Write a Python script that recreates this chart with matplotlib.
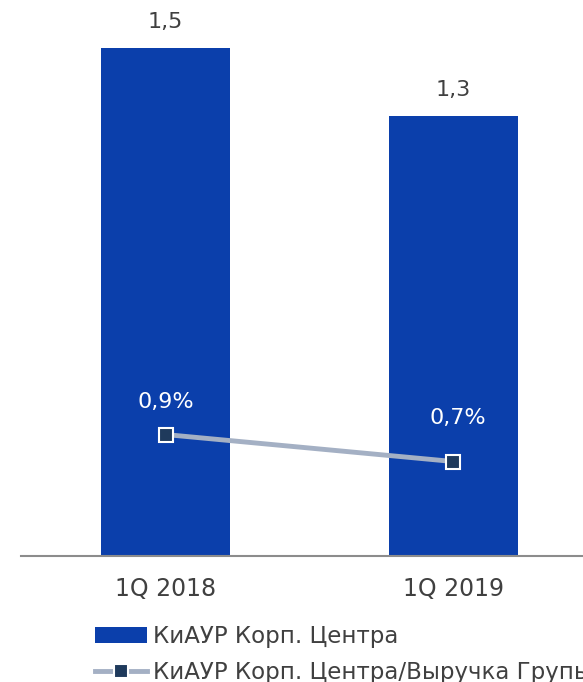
import matplotlib.pyplot as plt
import numpy as np

# данные
categories = ["1Q 2018", "1Q 2019"]
kiaur = [1.5, 1.3]  # КиАУР Корп. Центра
kiaur_share = [0.9, 0.7]  # % от выручки группы
bar_labels = ["1,5", "1,3"]
share_labels = ["0,9%", "0,7%"]
legend_labels = ["КиАУР Корп. Центра", "КиАУР Корп. Центра/Выручка Групы"]

bar_color = "#0B3FAB"
line_color = "#A4B0C4"
marker_color = "#1F3A5C"
text_color = "#404040"

plt.rcParams["font.family"] = ["DejaVu Sans"]

fig = plt.figure(figsize=(5.83, 6.82), dpi=100)
ax = fig.add_axes([21 / 583, 126 / 682, 1 - 21 / 583, 556 / 682])

x = np.arange(len(categories))
bars = ax.bar(x, kiaur, width=0.448, color=bar_color, label=legend_labels[0], zorder=2)
ax.set_xlim(-0.502, 1.45)
ax.set_ylim(0, 1.642)

for xi, v, lab in zip(x, kiaur, bar_labels):
    ax.annotate(lab, (xi, v), xytext=(0, 18.5), textcoords="offset points",
                ha="center", va="center", fontsize=16, color=text_color)

ax.set_xticks(x)
ax.set_xticklabels(categories, fontsize=17, color=text_color)
ax.tick_params(axis="x", length=0, pad=15)
ax.set_yticks([])
for s in ["left", "right", "top"]:
    ax.spines[s].set_visible(False)
ax.spines["bottom"].set_color("#8C8C8C")
ax.spines["bottom"].set_linewidth(1.5)

# вторая ось
ax2 = ax.twinx()
ax2.set_ylim(0, 4.12)
line, = ax2.plot(x, kiaur_share, color=line_color, lw=3.5, marker="s", markersize=10,
                 markerfacecolor=marker_color, markeredgecolor="white", markeredgewidth=1.5,
                 label=legend_labels[1], zorder=3)
offsets = [(0, 23.5), (3, 31.5)]
for xi, v, lab, off in zip(x, kiaur_share, share_labels, offsets):
    ax2.annotate(lab, (xi, v), xytext=off, textcoords="offset points",
                 ha="center", va="center", fontsize=16, color="white")
ax2.set_yticks([])
for s in ax2.spines.values():
    s.set_visible(False)

fig.legend([bars, line], legend_labels, loc="upper left",
           bbox_to_anchor=(95 / 583, 1 - 625 / 682), frameon=False,
           fontsize=16.5, labelcolor=text_color, handlelength=2.27,
           handletextpad=0.26, labelspacing=0.55, borderpad=0, borderaxespad=0)

fig.savefig("out.png", dpi=100)
